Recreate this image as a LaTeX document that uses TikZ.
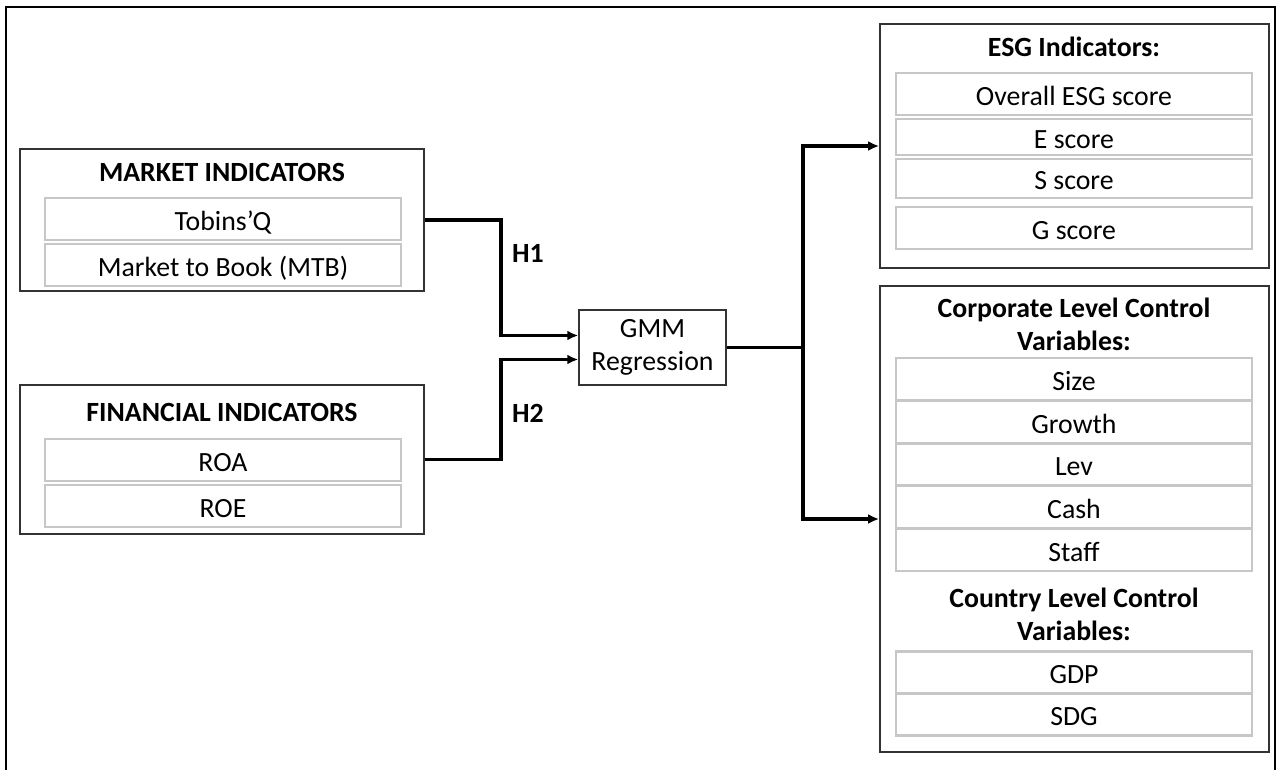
\documentclass[tikz,border=0pt]{standalone}
\usepackage{fontspec}
\setmainfont{Carlito}
\usetikzlibrary{arrows.meta}
\begin{document}
\begin{tikzpicture}[x=1pt, y=-1pt,
  every node/.style={font=\fontsize{27.8}{33}\selectfont, inner sep=0pt},
  group/.style={draw=black!80, line width=1.8pt, fill=white},
  item/.style={draw=black!22, line width=2.2pt, fill=white, minimum width=356pt, minimum height=42pt, text height=22pt, text depth=0pt},
  head/.style={font=\fontsize{27.8}{33}\selectfont\bfseries, align=center},
  link/.style={line width=3.4pt, -{Latex[length=11pt,width=10pt]}}]
\useasboundingbox (0,0) rectangle (1278,769);
\draw[line width=2.8pt] (6,775) -- (6,7) -- (1275,7) -- (1275,775);
% left side
\node[group, minimum width=404pt, minimum height=142pt] (mkt) at (222,220) {};
\node[head] (mkthead) at (222,172) {MARKET INDICATORS};
\node[item] (tobin) at (223,219) {Tobins’Q};
\node[item] (mtb) at (223,265) {Market to Book (MTB)};
\node[group, minimum width=404pt, minimum height=149pt] (fin) at (222,459.5) {};
\node[head] (finhead) at (222,412) {FINANCIAL INDICATORS};
\node[item] (roa) at (223,460) {ROA};
\node[item] (roe) at (223,506) {ROE};
% model
\node[group, line width=1.5pt, minimum width=147pt, minimum height=75pt, align=center] (gmm) at (652.5,347.5) {GMM\\Regression};
\coordinate (join) at (501,347.5);
\coordinate (split) at (803,347.5);
% right side
\node[group, minimum width=389pt, minimum height=244pt] (esg) at (1074.5,146) {};
\node[head] (esghead) at (1074,47) {ESG Indicators:};
\node[item, minimum height=42pt] (overall) at (1074,94) {Overall ESG score};
\node[item, minimum height=36pt] (escore) at (1074,137) {E score};
\node[item, minimum height=39pt] (sscore) at (1074,178.5) {S score};
\node[item, minimum height=42pt] (gscore) at (1074,228) {G score};
\node[group, minimum width=389pt, minimum height=466pt] (ctrl) at (1074.5,519) {};
\node[head] (corphead) at (1074,324) {Corporate Level Control\\Variables:};
\node[item] (size) at (1074,379) {Size};
\node[item] (growth) at (1074,422) {Growth};
\node[item] (lev) at (1074,464.5) {Lev};
\node[item] (cash) at (1074,507) {Cash};
\node[item] (staff) at (1074,550) {Staff};
\node[head] (cntryhead) at (1074,614) {Country Level Control\\Variables:};
\node[item] (gdp) at (1074,672.5) {GDP};
\node[item] (sdg) at (1074,714.5) {SDG};
% connectors
\draw[link] (mkt.east) -- (mkt.east -| join) |- ([yshift=12pt]gmm.west);
\draw[link] (fin.east) -- (fin.east -| join) |- ([yshift=-12pt]gmm.west);
\node[head] (h1) at (528,253) {H1};
\node[head] (h2) at (528,413) {H2};
\draw[line width=3.4pt] (gmm.east) -- (split);
\draw[link] (split) |- (esg.west);
\draw[link] (split) |- (ctrl.west);
\end{tikzpicture}
\end{document}
